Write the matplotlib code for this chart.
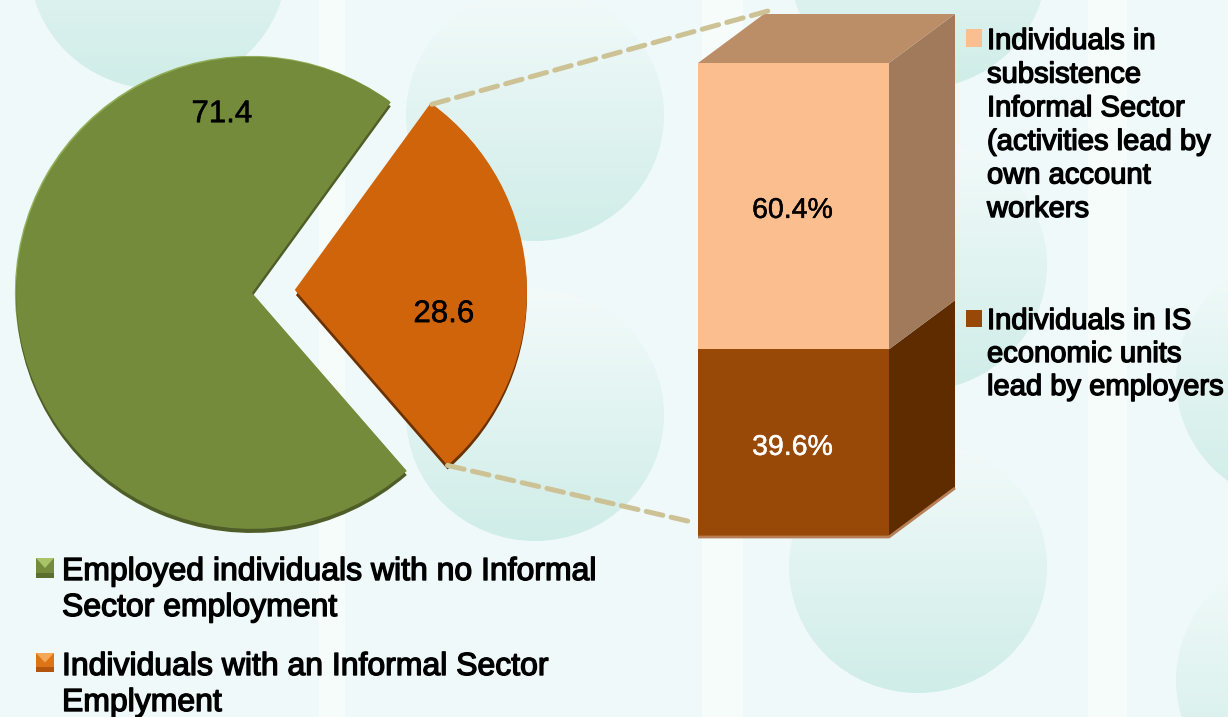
#!/usr/bin/env python3
"""Informal sector employment: exploded pie plus stacked breakdown column."""
import matplotlib
matplotlib.use("Agg")
import matplotlib.patheffects as pe
import matplotlib.pyplot as plt
import numpy as np
from matplotlib.patches import ConnectionPatch, Ellipse, Polygon, Rectangle

W, H = 1228, 717

PIE_VALUES = [28.6, 71.4]
PIE_LABELS = ["28.6", "71.4"]
BAR_VALUES = [39.6, 60.4]
BAR_LABELS = ["39.6%", "60.4%"]

LEGEND_LEFT = [
    ["Employed individuals with no Informal", "Sector employment"],
    ["Individuals with an Informal Sector", "Emplyment"],
]
LEGEND_RIGHT = [
    ["Individuals in", "subsistence", "Informal Sector", "(activities lead by", "own account", "workers"],
    ["Individuals in IS", "economic units", "lead by employers"],
]

BUBBLES = [(158, -37), (535, 115), (535, 415), (918, -37), (918, 265), (918, 567), (1305, 380), (1305, 680)]
STRIPES = [(319, 345), (702, 743), (1088, 1127)]

GREEN, ORANGE = "#738B3B", "#D0640B"
FONT = "Liberation Sans"
HALO = [pe.withStroke(linewidth=1.0, foreground="black")]
NUM_HALO = [pe.withStroke(linewidth=0.35, foreground="black")]
R_ORANGE, R_GREEN = 0.9625, 0.983
EXPLODE = [0.0917, 0.0917]
START = -49


def px_rect(x0, y0, x1, y1):
    """Figure-fraction rectangle from pixel box (y measured from the top)."""
    return [x0 / W, 1 - y1 / H, (x1 - x0) / W, (y1 - y0) / H]


fig = plt.figure(figsize=(W / 100, H / 100), dpi=100, facecolor="#EFF9FA")

# background: stripes and shaded bubbles
bg = fig.add_axes([0, 0, 1, 1], zorder=0)
bg.set_xlim(0, W)
bg.set_ylim(H, 0)
bg.axis("off")
for x0, x1 in STRIPES:
    bg.axvspan(x0, x1, color="#F6FCFA", lw=0)
grad = np.linspace(0, 1, 64)[:, None]
rgba = np.zeros((64, 1, 4))
rgba[..., 0] = 0.95 - 0.135 * grad
rgba[..., 1] = 0.98 - 0.05 * grad
rgba[..., 2] = 0.98 - 0.07 * grad
rgba[..., 3] = 1
for cx, cy in BUBBLES:
    im = bg.imshow(rgba, extent=(cx - 129, cx + 129, cy + 126, cy - 126), aspect="auto", zorder=1)
    im.set_clip_path(Ellipse((cx, cy), 258, 252, transform=bg.transData))
bg.set_xlim(0, W)
bg.set_ylim(H, 0)

# pie with a thin lit rim and a dark lip underneath
ax = fig.add_axes(px_rect(-26, -8, 574, 592), zorder=2)
for centre, cols in [((-0.005, 0.005), [ORANGE, "#93AE58"]), ((0.0, -0.017), ["#6B3200", "#4F5E28"])]:
    under, _ = ax.pie(PIE_VALUES, explode=EXPLODE, startangle=START, colors=cols, center=centre)
    under[0].set_radius(R_ORANGE)
    under[1].set_radius(R_GREEN)
wedges, _ = ax.pie(PIE_VALUES, explode=EXPLODE, startangle=START, colors=[ORANGE, GREEN])
wedges[0].set_radius(R_ORANGE)
wedges[1].set_radius(R_GREEN)
ax.set_xlim(-1.25, 1.25)
ax.set_ylim(-1.25, 1.25)
ax.text(0.708, -0.092, PIE_LABELS[0], ha="center", va="center", fontsize=22.5, family=FONT, path_effects=NUM_HALO)
ax.text(-0.217, 0.741, PIE_LABELS[1], ha="center", va="center", fontsize=22.5, family=FONT, path_effects=NUM_HALO)

# stacked column with fake depth
bar = fig.add_axes(px_rect(698, 63, 889, 537), zorder=3)
bar.set_xlim(0, 1)
bar.set_ylim(0, 100)
bar.axis("off")
dx, dy = 66 / 191, 49 / 4.74
front = ["#984807", "#FBBF8F"]
side = ["#5F2C00", "#A07A5B"]
bottom = 0
for val, lab, fc, sc, tc in zip(BAR_VALUES, BAR_LABELS, front, side, ["white", "black"]):
    bar.bar(0.5, val, width=1, bottom=bottom, color=fc, lw=0)
    bar.add_patch(Polygon([(1, bottom), (1 + dx, bottom + dy), (1 + dx, bottom + val + dy), (1, bottom + val)],
                          fc=sc, lw=0, clip_on=False))
    halo = [pe.withStroke(linewidth=0.35, foreground=tc)]
    bar.text(0.495, bottom + val / 2 - 1, lab, color=tc, ha="center", va="center", fontsize=20.5, family=FONT,
             path_effects=halo)
    bottom += val
bar.add_patch(Polygon([(0, bottom), (1, bottom), (1 + dx, bottom + dy), (dx, bottom + dy)],
                      fc="#BC8E68", lw=0, clip_on=False))
# light rim along the base
bar.plot([0, 1, 1 + dx], [0, 0, dy], color="#B87E55", lw=2, clip_on=False, solid_capstyle="butt")

# dashed leader lines from the orange slice to the column
w0 = wedges[0]
for theta, xy_bar in [(w0.theta2, (0.387, 111.2)), (w0.theta1, (-0.015, 3))]:
    tip = (w0.center[0] + R_ORANGE * np.cos(np.radians(theta)), w0.center[1] + R_ORANGE * np.sin(np.radians(theta)))
    con = ConnectionPatch(xyA=tip, coordsA=ax.transData, xyB=xy_bar, coordsB=bar.transData,
                          color="#CDC295", lw=3.6, ls=(0, (3.4, 1.7)), zorder=5)
    fig.add_artist(con)

# legends, one text per line
overlay = fig.add_axes([0, 0, 1, 1], zorder=4)
overlay.set_xlim(0, W)
overlay.set_ylim(H, 0)
overlay.axis("off")


def legend_entry(lines, x, y0, step, size):
    for i, line in enumerate(lines):
        overlay.text(x, y0 + i * step, line, fontsize=size, family=FONT, va="baseline", ha="left", path_effects=HALO)


def swatch(x0, y0, x1, y1, fc, top=None, low=None):
    overlay.add_patch(Rectangle((x0, y0), x1 - x0, y1 - y0, fc=fc, lw=0))
    if top:
        overlay.add_patch(Polygon([(x0, y0), (x1, y0), ((x0 + x1) / 2, (y0 + y1) / 2)], fc=top, lw=0))
    if low:
        overlay.add_patch(Rectangle((x0, y1 - 5), x1 - x0, 5, fc=low, lw=0))


swatch(36, 558, 54, 578, GREEN, "#A9C468", "#5A6E2D")
swatch(36, 653, 54, 672, "#DD7415", "#F2A75A", "#B3560C")
swatch(966, 29, 982, 47, "#FBBF8F")
swatch(966, 310, 982, 327, "#984807")
legend_entry(LEGEND_LEFT[0], 62, 580, 36, 23)
legend_entry(LEGEND_LEFT[1], 62, 675, 36, 23)
legend_entry(LEGEND_RIGHT[0], 987, 49, 33.6, 21)
legend_entry(LEGEND_RIGHT[1], 987, 329, 33, 21)

fig.savefig("out.png", dpi=100, facecolor=fig.get_facecolor())
